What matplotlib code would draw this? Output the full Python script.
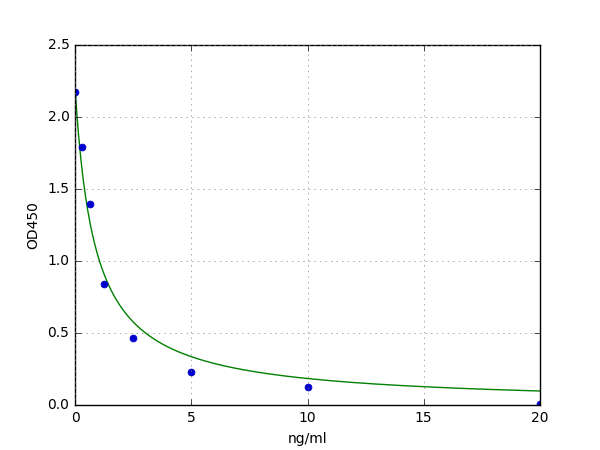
import matplotlib
matplotlib.use('Agg')
import matplotlib.pyplot as plt
import numpy as np

plt.style.use('classic')

# standard concentrations and measured OD
conc = [0, 0.3125, 0.625, 1.25, 2.5, 5, 10, 20]
od = [2.176, 1.79, 1.394, 0.838, 0.463, 0.23, 0.127, 0.01]

# fitted 4PL parameters (top, slope, ec50, bottom)
fit_a, fit_b, fit_c, fit_d = 2.22, 0.98, 0.86, 0.0

def four_pl(x):
    return fit_d + (fit_a - fit_d) / (1 + (x / fit_c) ** fit_b)

fig = plt.figure(figsize=(6, 4.5), dpi=100)
ax = fig.add_subplot(111)

xs = np.linspace(0, 20, 400)
ax.plot(xs, four_pl(xs), color='green', linewidth=1)
ax.plot(conc, od, 'o', color='#0000cc', markeredgecolor='#0000cc', markersize=5)

ax.set_xlim(0, 20)
ax.set_ylim(0, 2.5)
ax.set_xlabel('ng/ml', fontsize=10)
ax.set_ylabel('OD450', fontsize=10)
ax.tick_params(labelsize=10)
ax.grid(True, color='gray', linestyle=':')

fig.savefig('out.png', dpi=100)
